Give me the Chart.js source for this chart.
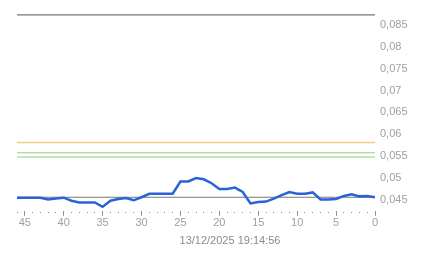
<!DOCTYPE html>
<html>
<head>
<meta charset="utf-8">
<script src="https://cdn.jsdelivr.net/npm/chart.js@4/dist/chart.umd.min.js"></script>
<style>
  html, body { margin: 0; padding: 0; background: #fff; }
  #wrap { width: 443px; height: 258px; position: relative; }
</style>
</head>
<body>
<div id="wrap"><canvas id="c" width="443" height="258"></canvas></div>
<script>
// ---- data ----
const minutesAgo = [46,45,44,43,42,41,40,39,38,37,36,35,34,33,32,31,30,29,28,27,26,25,24,23,22,21,20,19,18,17,16,15,14,13,12,11,10,9,8,7,6,5,4,3,2,1,0];
const seriesValues = [0.0455,0.0455,0.0455,0.0455,0.0451,0.0453,0.0455,0.0448,0.0444,0.0444,0.0444,0.0434,0.0448,0.0452,0.0454,0.0449,0.0456,0.0464,0.0464,0.0464,0.0464,0.0492,0.0492,0.0500,0.0497,0.0488,0.0475,0.0475,0.0478,0.0468,0.0442,0.0445,0.0446,0.0453,0.0461,0.0468,0.0464,0.0464,0.0467,0.0451,0.0451,0.0452,0.0459,0.0463,0.0458,0.0459,0.0456];
const refLineValues = [0.0873, 0.0581, 0.0558, 0.0548, 0.0456];
const yTickValues = [0.045, 0.05, 0.055, 0.06, 0.065, 0.07, 0.075, 0.08, 0.085];
const xMajorTicks = [45, 40, 35, 30, 25, 20, 15, 10, 5, 0];
const titleText = '13/12/2025 19:14:56';

// ---- styles ----
const refLineColors = ['#777777', 'rgb(240,206,132)', 'rgb(182,222,164)', 'rgb(182,222,164)', '#777777'];
const refLineWidths = [1.2, 1.5, 1.5, 1.5, 1.2];
const textColor = '#a0a0a0';
const fontFamily = '"Liberation Sans", Arial, sans-serif';

const xMin = 0, xMax = 46;

const datasets = [{
  data: minutesAgo.map((m, i) => ({ x: m, y: seriesValues[i] })),
  borderColor: '#2a63d8',
  borderWidth: 2.5,
  pointRadius: 0,
  tension: 0,
  fill: false,
  order: 0
}];
refLineValues.forEach((v, i) => {
  datasets.push({
    data: [{ x: xMax, y: v }, { x: xMin, y: v }],
    borderColor: refLineColors[i],
    borderWidth: refLineWidths[i],
    pointRadius: 0,
    fill: false,
    order: 1
  });
});

new Chart(document.getElementById('c'), {
  type: 'line',
  data: { datasets },
  options: {
    responsive: false,
    animation: false,
    events: [],
    layout: { padding: { left: 17, top: 14, right: 0, bottom: 0 } },
    plugins: {
      legend: { display: false },
      tooltip: { enabled: false },
      title: {
        display: true,
        text: titleText,
        position: 'bottom',
        color: '#8a8a8a',
        font: { family: fontFamily, size: 11, weight: 'normal' },
        padding: { top: 4, bottom: 10 }
      }
    },
    scales: {
      x: {
        type: 'linear',
        reverse: true,
        min: xMin,
        max: xMax,
        position: 'bottom',
        border: { display: false },
        grid: {
          display: true,
          drawOnChartArea: false,
          drawTicks: true,
          tickLength: 5,
          tickWidth: 1,
          tickColor: '#909090',
          tickBorderDash: (ctx) => (xMajorTicks.includes(ctx.tick && ctx.tick.value) ? [] : [0, 1, 1, 20])
        },
        ticks: {
          stepSize: 1,
          autoSkip: false,
          maxRotation: 0,
          padding: 1,
          color: textColor,
          font: { family: fontFamily, size: 11 },
          callback: (v) => (xMajorTicks.includes(v) ? String(v) : '')
        },
        afterFit: (s) => { s.height = 20; }
      },
      y: {
        type: 'linear',
        position: 'right',
        min: 0.0425,
        max: 0.0875,
        border: { display: false },
        grid: { display: false, drawTicks: false },
        afterBuildTicks: (s) => { s.ticks = yTickValues.map(v => ({ value: v })); },
        ticks: {
          padding: 5,
          color: textColor,
          font: { family: fontFamily, size: 11 },
          callback: (v) => String(Math.round(v * 1000) / 1000).replace('.', ',')
        },
        afterFit: (s) => { s.width = 68; }
      }
    }
  }
});
</script>
</body>
</html>
